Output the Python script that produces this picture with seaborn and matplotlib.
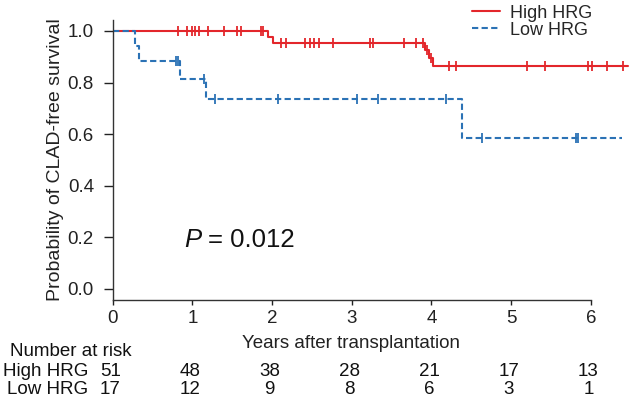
import matplotlib
matplotlib.use("Agg")
import matplotlib.pyplot as plt
import matplotlib.transforms as mtransforms
import numpy as np
import pandas as pd
import seaborn as sns

sns.set_style("ticks")
plt.rcParams['font.family'] = ['Liberation Sans', 'DejaVu Sans']

# ---------------- data ----------------
groups = ['High HRG', 'Low HRG']

high_event_t = [1.95, 2.01, 3.92, 3.97, 4.02]
high_event_s = [0.978, 0.952, 0.925, 0.897, 0.866]
high_censor = [0.82, 0.93, 0.99, 1.03, 1.08, 1.20, 1.40, 1.56, 1.61, 1.86, 1.89,
               2.11, 2.17, 2.41, 2.48, 2.53, 2.59, 2.77, 3.23, 3.27, 3.66, 3.81,
               3.90, 3.95, 4.00, 4.22, 4.31, 5.20, 5.42, 5.97, 6.02, 6.20, 6.41]
high_end = 6.47

low_event_t = [0.28, 0.33, 0.84, 1.17, 4.38]
low_event_s = [0.941, 0.882, 0.812, 0.736, 0.585]
low_censor = [0.80, 0.82, 1.15, 1.28, 2.08, 3.06, 3.33, 4.18, 4.64, 5.82, 5.84]
low_end = 6.39

risk_times = [0, 1, 2, 3, 4, 5, 6]
risk_high = [51, 48, 38, 28, 21, 17, 13]
risk_low = [17, 12, 9, 8, 6, 3, 1]

colors = {'High HRG': '#e3262b', 'Low HRG': '#2b72b5'}


def km_steps(ev_t, ev_s, end):
    t = [0.0] + list(ev_t) + [end]
    s = [1.0] + list(ev_s) + [ev_s[-1]]
    return t, s


def surv_at(times, ev_t, ev_s):
    lv = np.r_[1.0, ev_s]
    idx = np.searchsorted(ev_t, times, side='right')
    return lv[idx]


rows, cens = [], []
for g, et, es, ct, end in [('High HRG', high_event_t, high_event_s, high_censor, high_end),
                           ('Low HRG', low_event_t, low_event_s, low_censor, low_end)]:
    t, s = km_steps(et, es, end)
    rows.append(pd.DataFrame({'time': t, 'surv': s, 'group': g}))
    cens.append(pd.DataFrame({'time': ct, 'surv': surv_at(ct, et, es), 'group': g}))
steps = pd.concat(rows, ignore_index=True)
censors = pd.concat(cens, ignore_index=True)

# ---------------- figure ----------------
fig = plt.figure(figsize=(6.33, 3.98), dpi=100)
ax = fig.add_axes([0.178, 0.247, 0.822, 0.703])

sns.lineplot(data=steps, x='time', y='surv', hue='group', style='group',
             hue_order=groups, style_order=groups, palette=colors,
             dashes={'High HRG': '', 'Low HRG': (3, 1.6)},
             estimator=None, sort=False, drawstyle='steps-post',
             linewidth=1.5, ax=ax)
for g in groups:
    d = censors[censors.group == g]
    ax.plot(d.time, d.surv, ls='none', marker='|', ms=7, mew=1.3,
            color=colors[g])

ax.set_xlim(0, 6.53)
ax.set_ylim(-0.042, 1.043)
ax.set_xticks(risk_times)
ax.set_yticks([0, 0.2, 0.4, 0.6, 0.8, 1.0])
ax.set_yticklabels(['0.0', '0.2', '0.4', '0.6', '0.8', '1.0'])
ax.tick_params(axis='y', length=6.5, width=1, pad=7, labelsize=13.5, colors='#222222')
ax.tick_params(axis='x', length=3.5, width=1, pad=4, labelsize=13.5, colors='#222222')
for sp in ['top', 'right']:
    ax.spines[sp].set_visible(False)
ax.spines['bottom'].set_bounds(0, 6)
for sp in ['left', 'bottom']:
    ax.spines[sp].set_color('#333333')
    ax.spines[sp].set_linewidth(1)

ax.set_ylabel('Probability of CLAD-free survival', fontsize=14, color='#222222')
ax.yaxis.set_label_coords(-0.094, 0.5)
ax.set_xlabel('Years after transplantation', fontsize=13.5, color='#222222')
ax.xaxis.set_label_coords(0.458, -0.126)

ax.text(1.20, 0.19, '= 0.012', fontsize=18.5, va='center', ha='left', color='#111111')
ax.text(1.11, 0.19, 'P', fontsize=18.5, va='center', ha='right',
        style='italic', color='#111111')

handles, labels = ax.get_legend_handles_labels()
ax.legend(handles, labels, loc='upper left', bbox_to_anchor=(0.745, 0.988),
          bbox_transform=fig.transFigure, frameon=False, fontsize=13,
          handlelength=1.6, handletextpad=0.5, labelspacing=0.0,
          borderpad=0, borderaxespad=0)

# number at risk table
tr = mtransforms.blended_transform_factory(ax.transData, fig.transFigure)
fig.text(10 / 633, 1 - 351 / 398, 'Number at risk', fontsize=13.5,
         va='center', ha='left', color='#111111')
for lab, vals, ypx in [('High HRG', risk_high, 372), ('Low HRG', risk_low, 389)]:
    yf = 1 - ypx / 398
    fig.text(88 / 633, yf, lab, fontsize=13.5, va='center', ha='right', color='#111111')
    for t, v in zip(risk_times, vals):
        ax.text(t - 0.03, yf, str(v), transform=tr, fontsize=13.5,
                va='center', ha='center', color='#111111')

fig.savefig('out.png', dpi=100)
